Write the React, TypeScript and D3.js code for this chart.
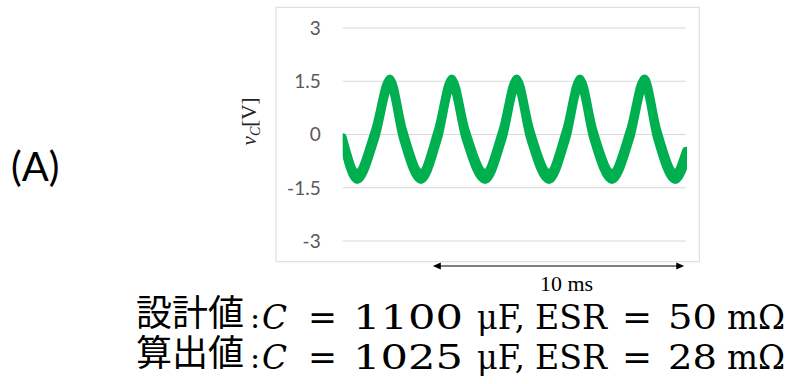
import * as d3 from "d3";

// capacitor voltage trace (envelope of the rippled band)
const timeMs = [
  0, 0.57, 1.28, 1.87, 2.39, 3.1, 3.77, 4.32, 4.87, 5.64, 6.33, 6.89, 7.43,
  8.17, 8.85, 9.4, 9.93, 10.67, 11.38, 11.95, 12.46, 13.17, 13.6,
];
const vUpper = [
  -0.08, -1.08, 0.12, 1.58, 0.12, -1.08, 0.12, 1.58, 0.12, -1.08, 0.12, 1.58,
  0.12, -1.08, 0.12, 1.58, 0.12, -1.08, 0.12, 1.58, 0.12, -1.08, -0.46,
];
const vLower = [
  -0.2, -1.28, -0.12, 1.4, -0.12, -1.28, -0.12, 1.4, -0.12, -1.28, -0.12, 1.4,
  -0.12, -1.28, -0.12, 1.4, -0.12, -1.28, -0.12, 1.4, -0.12, -1.28, -0.74,
];

const yTicks = [3, 1.5, 0, -1.5, -3];
const spanStart = 3.57;
const spanMs = 10;

const lines = [
  { label: "設計値", c: "1100", esr: "50" },
  { label: "算出値", c: "1025", esr: "28" },
];

const W = 791;
const H = 384;
const green = "#00B050";
const grid = "#D9D9D9";

export default function App() {
  const x = d3.scaleLinear().domain([0, 13.6]).range([342.7, 686]);
  const y = d3.scaleLinear().domain([-3, 3]).range([241, 28]);

  const pts = timeMs.map((t, i) => ({ t, hi: vUpper[i], lo: vLower[i] }));
  const band = d3
    .area<{ t: number; hi: number; lo: number }>()
    .x((d) => x(d.t))
    .y0((d) => y(d.lo))
    .y1((d) => y(d.hi))
    .curve(d3.curveMonotoneX);

  const arrowY = 266;
  const ax0 = x(spanStart);
  const ax1 = x(spanStart + spanMs) - 1;

  const serif = "'Liberation Serif', 'Times New Roman', serif";
  const mathFont = "'DejaVu Serif', serif";

  return (
    <svg
      width={W}
      height={H}
      style={{ position: "absolute", left: 0, top: 0, background: "#fff" }}
    >
      <defs>
        <clipPath id="plot">
          <rect x={x(0)} y={0} width={x(13.6) - x(0) + 1} height={262} />
        </clipPath>
      </defs>

      <text
        x={11}
        y={181}
        fontFamily="Lato, 'Open Sans', sans-serif"
        fontSize={40}
        fill="#000"
      >
        (A)
      </text>

      <rect x={276} y={7.3} width={423.3} height={254.4} fill="#fff" stroke={grid} />

      {yTicks.map((v) => (
        <g key={v}>
          <line x1={x(0)} x2={x(13.6)} y1={y(v)} y2={y(v)} stroke={grid} />
          <text
            x={320.7}
            y={y(v)}
            dy="0.36em"
            textAnchor="end"
            fontFamily="Lato, 'Open Sans', sans-serif"
            fontSize={19}
            fill="#595959"
          >
            {String(v)}
          </text>
        </g>
      ))}

      <g clipPath="url(#plot)">
        <path
          d={band(pts) ?? ""}
          fill={green}
          stroke={green}
          strokeWidth={8}
          strokeLinejoin="round"
        />
      </g>

      <text
        transform="translate(256,121.5) rotate(-90)"
        textAnchor="middle"
        fontFamily={serif}
        fontSize={21}
        fill="#222"
      >
        <tspan fontStyle="italic">v</tspan>
        <tspan fontStyle="italic" fontSize={14} dy={4}>
          C
        </tspan>
        <tspan dy={-4}>[V]</tspan>
      </text>

      <line x1={ax0 + 5} x2={ax1 - 5} y1={arrowY} y2={arrowY} stroke="#000" strokeWidth={1} />
      <path d={`M${ax0},${arrowY} l8,-3.5 v7 z`} fill="#000" />
      <path d={`M${ax1},${arrowY} l-8,-3.5 v7 z`} fill="#000" />
      <text
        x={540}
        y={290.5}
        fontFamily={serif}
        fontSize={20}
        textLength={53}
        lengthAdjust="spacingAndGlyphs"
        fill="#000"
      >
        {`${spanMs} ms`}
      </text>

      {lines.map((ln, i) => {
        const by = 329 + i * 40;
        const seg = (s: string, x0: number, x1: number, italic = false) => (
          <text
            x={x0}
            y={by}
            fontFamily={mathFont}
            fontSize={34}
            fontStyle={italic ? "italic" : "normal"}
            textLength={x1 - x0}
            lengthAdjust="spacingAndGlyphs"
            fill="#000"
          >
            {s}
          </text>
        );
        return (
          <g key={ln.label}>
            <text
              x={136}
              y={by - 3}
              fontFamily="'Noto Sans CJK JP', sans-serif"
              fontSize={36}
              fill="#000"
            >
              {ln.label}
            </text>
            <text
              x={250}
              y={by - 1}
              fontFamily={mathFont}
              fontSize={30}
              fill="#000"
            >
              :
            </text>
            {seg("C", 262, 287, true)}
            {seg("=", 308, 337)}
            {seg(ln.c, 353, 463)}
            {seg("μF,", 477, 525)}
            {seg("ESR", 535, 607)}
            {seg("=", 622, 652)}
            {seg(ln.esr, 668, 717)}
            {seg("mΩ", 727, 785)}
          </g>
        );
      })}
    </svg>
  );
}
